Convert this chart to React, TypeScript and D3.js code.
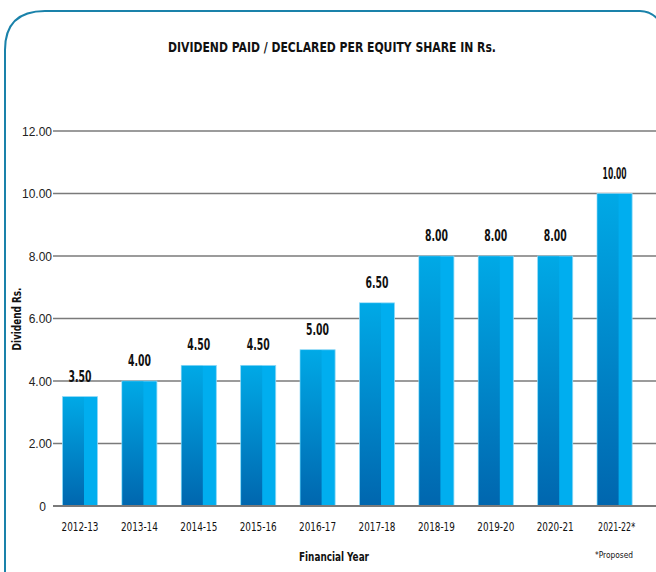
import React, { useEffect, useRef } from "react";
import * as d3 from "d3";

const years = ["2012-13", "2013-14", "2014-15", "2015-16", "2016-17", "2017-18", "2018-19", "2019-20", "2020-21", "2021-22*"];
const dividends = [3.5, 4.0, 4.5, 4.5, 5.0, 6.5, 8.0, 8.0, 8.0, 10.0];
const yTicks = [0, 2, 4, 6, 8, 10, 12];

const W = 656;
const H = 572;
const condensed = "'DejaVu Sans Condensed', 'Liberation Sans', Arial, sans-serif";

const App = () => {
  const ref = useRef<SVGSVGElement>(null);

  useEffect(() => {
    const svg = d3.select(ref.current);
    svg.selectAll("*").remove();

    const x = d3.scaleBand().domain(years).range([50.3, 644.3]).paddingInner(0.41).paddingOuter(0.205);
    const y = d3.scaleLinear().domain([0, 12]).range([506, 131]);

    const defs = svg.append("defs");
    const grad = defs.append("linearGradient").attr("id", "barDark").attr("x1", 0).attr("y1", 0).attr("x2", 0).attr("y2", 1);
    grad.append("stop").attr("offset", "0%").attr("stop-color", "#00a9e6");
    grad.append("stop").attr("offset", "100%").attr("stop-color", "#0066ae");

    // frame (right side runs off the picture)
    svg.append("path")
      .attr("d", "M5,600 L5,50 Q5,11 45,11 L640,11 Q652,11 660,22")
      .attr("fill", "none")
      .attr("stroke", "#1a82aa")
      .attr("stroke-width", 2);

    svg.append("text")
      .attr("x", 332).attr("y", 52)
      .attr("text-anchor", "middle")
      .attr("font-family", condensed)
      .attr("font-weight", "bold")
      .attr("font-size", 14)
      .attr("textLength", 328)
      .attr("lengthAdjust", "spacingAndGlyphs")
      .attr("fill", "#111")
      .text("DIVIDEND PAID / DECLARED PER EQUITY SHARE IN Rs.");

    // grid + ticks
    const g = svg.append("g");
    g.selectAll("line.grid").data(yTicks).enter().append("line")
      .attr("class", "grid")
      .attr("x1", 53).attr("x2", 656)
      .attr("y1", d => y(d)).attr("y2", d => y(d))
      .attr("stroke", "#7a7a7a")
      .attr("stroke-width", 1.6);

    g.selectAll("text.tick").data(yTicks).enter().append("text")
      .attr("class", "tick")
      .attr("x", d => (d === 0 ? 46 : 52)).attr("y", d => y(d) + 4.5)
      .attr("text-anchor", "end")
      .attr("font-family", "'Liberation Sans', Arial, sans-serif")
      .attr("font-size", 12)
      .attr("fill", "#222")
      .text(d => (d === 0 ? "0" : d3.format(".2f")(d)));

    // bars
    const bars = svg.append("g").selectAll("g.bar").data(dividends).enter().append("g").attr("class", "bar");
    const darkW = x.bandwidth() * 0.6;
    bars.append("rect")
      .attr("x", (d, i) => x(years[i])!)
      .attr("y", d => y(d))
      .attr("width", x.bandwidth())
      .attr("height", d => y(0) - y(d))
      .attr("fill", "#00aeef")
      .attr("stroke", "#8fd8f5")
      .attr("stroke-width", 0.8);
    bars.append("rect")
      .attr("x", (d, i) => x(years[i])! + 0.5)
      .attr("y", d => y(d) + 0.5)
      .attr("width", darkW)
      .attr("height", d => y(0) - y(d) - 0.5)
      .attr("fill", "url(#barDark)");

    bars.append("text")
      .attr("x", (d, i) => x(years[i])! + x.bandwidth() / 2)
      .attr("y", d => y(d) - 15)
      .attr("text-anchor", "middle")
      .attr("font-family", condensed)
      .attr("font-weight", "bold")
      .attr("font-size", 15)
      .attr("textLength", d => (d >= 10 ? 24 : 23))
      .attr("lengthAdjust", "spacingAndGlyphs")
      .attr("fill", "#111")
      .text(d => d3.format(".2f")(d));

    // baseline on top of bars
    svg.append("line")
      .attr("x1", 53).attr("x2", 656)
      .attr("y1", y(0)).attr("y2", y(0))
      .attr("stroke", "#7a7a7a")
      .attr("stroke-width", 1.8);

    svg.append("g").selectAll("text").data(years).enter().append("text")
      .attr("x", d => x(d)! + x.bandwidth() / 2 + (d.endsWith("*") ? 2 : 0))
      .attr("y", 531)
      .attr("text-anchor", "middle")
      .attr("font-family", condensed)
      .attr("font-size", 12.5)
      .attr("textLength", 37)
      .attr("lengthAdjust", "spacingAndGlyphs")
      .attr("fill", "#111")
      .text(d => d);

    svg.append("text")
      .attr("x", 334).attr("y", 561)
      .attr("text-anchor", "middle")
      .attr("font-family", condensed)
      .attr("font-weight", "bold")
      .attr("font-size", 12.5)
      .attr("textLength", 70)
      .attr("lengthAdjust", "spacingAndGlyphs")
      .attr("fill", "#111")
      .text("Financial Year");

    svg.append("text")
      .attr("x", 614).attr("y", 558)
      .attr("text-anchor", "middle")
      .attr("font-family", condensed)
      .attr("font-size", 9)
      .attr("textLength", 38)
      .attr("lengthAdjust", "spacingAndGlyphs")
      .attr("fill", "#111")
      .text("*Proposed");

    svg.append("text")
      .attr("transform", "translate(21,319) rotate(-90)")
      .attr("text-anchor", "middle")
      .attr("font-family", condensed)
      .attr("font-weight", "bold")
      .attr("font-size", 12)
      .attr("textLength", 63)
      .attr("lengthAdjust", "spacingAndGlyphs")
      .attr("fill", "#111")
      .text("Dividend Rs.");
  }, []);

  return (
    <svg ref={ref} width={W} height={H} style={{ position: "absolute", left: 0, top: 0, background: "#fff" }} />
  );
};

export default App;
